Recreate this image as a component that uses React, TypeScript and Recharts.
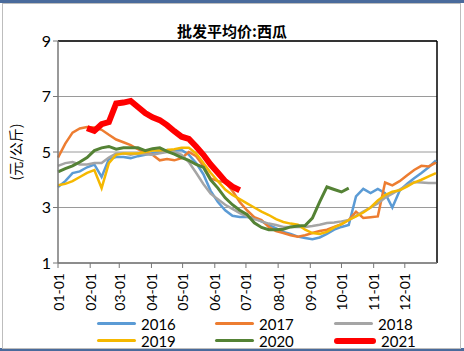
import React from 'react'
import { LineChart, Line, XAxis, YAxis, CartesianGrid, ReferenceLine, Legend } from 'recharts'

// week index 0..52
const weeks = Array.from({ length: 53 }, (_, i) => i)

const s2016 = [3.74, 3.95, 4.24, 4.3, 4.45, 4.55, 4.1, 4.75, 4.82, 4.82, 4.78, 4.85, 4.9, 4.96, 5.0, 5.07, 5.05, 5.07, 4.9, 4.6, 4.2, 3.6, 3.2, 2.9, 2.7, 2.66, 2.66, 2.62, 2.5, 2.37, 2.25, 2.12, 2.05, 1.95, 1.9, 1.86, 1.92, 2.05, 2.2, 2.3, 2.37, 3.4, 3.67, 3.52, 3.67, 3.52, 3.0, 3.6, 3.85, 4.05, 4.24, 4.45, 4.7]
const s2017 = [4.8, 5.3, 5.7, 5.85, 5.9, 5.88, 5.8, 5.62, 5.45, 5.35, 5.25, 5.1, 4.98, 4.9, 4.7, 4.75, 4.7, 4.78, 5.0, 4.85, 4.5, 4.05, 3.95, 3.92, 3.6, 3.2, 2.9, 2.65, 2.55, 2.3, 2.15, 2.08, 2.0, 1.95, 2.0, 2.08, 2.15, 2.2, 2.3, 2.4, 2.55, 2.85, 2.62, 2.65, 2.68, 3.9, 3.8, 3.95, 4.15, 4.35, 4.5, 4.48, 4.62]
const s2018 = [4.5, 4.6, 4.64, 4.55, 4.55, 4.6, 4.6, 4.8, 4.95, 4.95, 4.9, 4.95, 4.92, 4.9, 4.95, 5.0, 5.0, 4.9, 4.64, 4.25, 3.85, 3.5, 3.3, 3.1, 2.95, 2.8, 2.68, 2.58, 2.5, 2.42, 2.37, 2.3, 2.3, 2.3, 2.3, 2.33, 2.38, 2.44, 2.46, 2.5, 2.55, 2.7, 2.85, 3.0, 3.15, 3.35, 3.5, 3.65, 3.8, 3.92, 3.9, 3.88, 3.88]
const s2019 = [3.8, 3.85, 3.95, 4.1, 4.25, 4.35, 3.7, 4.6, 4.9, 4.95, 4.95, 4.95, 5.0, 5.05, 5.05, 5.07, 5.1, 5.15, 5.15, 4.95, 4.6, 4.25, 3.95, 3.65, 3.45, 3.3, 3.15, 3.0, 2.85, 2.73, 2.58, 2.48, 2.42, 2.38, 2.2, 2.08, 2.05, 2.12, 2.28, 2.4, 2.55, 2.68, 2.82, 3.0, 3.25, 3.45, 3.57, 3.62, 3.75, 3.9, 4.0, 4.12, 4.24]
const s2020 = [4.28, 4.4, 4.5, 4.64, 4.8, 5.05, 5.15, 5.2, 5.1, 5.15, 5.15, 5.15, 5.05, 5.12, 5.15, 5.02, 4.92, 4.8, 4.7, 4.55, 4.45, 4.0, 3.7, 3.35, 3.1, 2.9, 2.75, 2.45, 2.28, 2.2, 2.2, 2.22, 2.3, 2.33, 2.35, 2.62, 3.2, 3.74, 3.65, 3.56, 3.7]
// 2021 starts in week 4
const s2021 = [null, null, null, null, 5.86, 5.76, 6.0, 6.08, 6.75, 6.78, 6.84, 6.62, 6.4, 6.25, 6.15, 5.97, 5.75, 5.55, 5.47, 5.2, 4.9, 4.55, 4.25, 3.95, 3.75, 3.62]

const monthLabels = ['01-01', '02-01', '03-01', '04-01', '05-01', '06-01', '07-01', '08-01', '09-01', '10-01', '11-01', '12-01']
const monthStartDays = [0, 31, 59, 90, 120, 151, 181, 212, 243, 273, 304, 334]
const yTicks = [1, 3, 5, 7, 9]

const series = [
  { key: 'y2016', name: '2016', color: '#5B9BD5', width: 2.5, values: s2016 },
  { key: 'y2017', name: '2017', color: '#ED7D31', width: 2.5, values: s2017 },
  { key: 'y2018', name: '2018', color: '#A5A5A5', width: 2.5, values: s2018 },
  { key: 'y2019', name: '2019', color: '#F5B800', width: 2.5, values: s2019 },
  { key: 'y2020', name: '2020', color: '#548235', width: 3, values: s2020 },
  { key: 'y2021', name: '2021', color: '#FF0000', width: 6, values: s2021 },
]

const data = weeks.map((w) => {
  const row: Record<string, number | null> = { week: w }
  series.forEach((s) => {
    const v = s.values[w]
    row[s.key] = v === undefined ? null : v
  })
  return row
})

const monthTicks = monthStartDays.map((d) => d / 7)
const xEnd = 365 / 7
const font = 'Lato, "Noto Sans CJK SC", sans-serif'

const XTick = (props: any) => {
  const { x, y, payload } = props
  const idx = monthTicks.indexOf(payload.value)
  return (
    <text x={x} y={y + 3} transform={`rotate(-90 ${x} ${y + 3})`} textAnchor="end" dominantBaseline="central" fontSize={14} fontFamily={font} fill="#000">
      {monthLabels[idx]}
    </text>
  )
}

const LegendBox = () => {
  const cols = [97, 215, 334]
  return (
    <div style={{ position: 'relative', width: 464, height: 38 }}>
      {series.map((s, i) => {
        const col = i % 3
        const row = Math.floor(i / 3)
        return (
          <div key={s.key} style={{ position: 'absolute', left: cols[col], top: 2 + row * 17, display: 'flex', alignItems: 'center', height: 17 }}>
            <span style={{ display: 'inline-block', width: s.key === 'y2021' ? 42 : 39, height: s.key === 'y2021' ? 6 : 3, background: s.color, borderRadius: 3 }} />
            <span style={{ marginLeft: 5, fontSize: 15, fontFamily: font, color: '#000' }}>{s.name}</span>
          </div>
        )
      })}
    </div>
  )
}

export default function App() {
  return (
    <div style={{ position: 'absolute', left: 0, top: 0, width: 464, height: 351, background: '#fff', overflow: 'hidden' }}>
      <div style={{ position: 'absolute', left: 0, top: 0, width: 464, height: 3, background: '#4A6B9C' }} />
      <div style={{ position: 'absolute', left: 0, top: 348, width: 464, height: 3, background: '#4A6B9C' }} />
      <div style={{ position: 'absolute', left: 2, top: 3, width: 457, height: 344, border: '1px solid #BDBDBD' }} />
      <div style={{ position: 'absolute', left: 0, top: 20, width: 464, textAlign: 'center', fontSize: 15, fontWeight: 'bold', fontFamily: '"Noto Sans CJK SC", sans-serif', color: '#000' }}>
        批发平均价:西瓜
      </div>
      <div style={{ position: 'absolute', left: 15, top: 152, transform: 'translate(-50%, -50%) rotate(-90deg)', whiteSpace: 'nowrap', fontSize: 14, fontFamily: '"Noto Sans CJK SC", sans-serif', color: '#000' }}>
        (元/公斤)
      </div>
      <div style={{ position: 'absolute', left: 0, top: 0 }}>
        <LineChart width={464} height={351} data={data} margin={{ top: 41, right: 27, left: 0, bottom: 0 }}>
          <CartesianGrid horizontal vertical={false} stroke="#9A9A9A" strokeWidth={1} />
          <XAxis
            dataKey="week"
            type="number"
            domain={[0, xEnd]}
            ticks={monthTicks}
            interval={0}
            height={50}
            tick={<XTick />}
            tickLine={{ stroke: '#777' }}
            tickSize={5}
            axisLine={{ stroke: '#777', strokeWidth: 1.5 }}
          />
          <YAxis
            domain={[1, 9]}
            ticks={yTicks}
            width={58}
            tick={{ fontSize: 16, fontFamily: font, fill: '#000' }}
            tickLine={{ stroke: '#777' }}
            tickSize={5}
            axisLine={{ stroke: '#777', strokeWidth: 1.5 }}
          />
          <ReferenceLine y={9} stroke="#000" strokeWidth={1.5} />
          <ReferenceLine x={xEnd} stroke="#000" strokeWidth={1.5} />
          {series.map((s) => (
            <Line
              key={s.key}
              dataKey={s.key}
              name={s.name}
              stroke={s.color}
              strokeWidth={s.width}
              dot={false}
              type="linear"
              connectNulls={false}
              isAnimationActive={false}
            />
          ))}
          <Legend verticalAlign="bottom" content={<LegendBox />} wrapperStyle={{ left: 0, bottom: 0, width: 464, height: 38 }} />
        </LineChart>
      </div>
    </div>
  )
}
